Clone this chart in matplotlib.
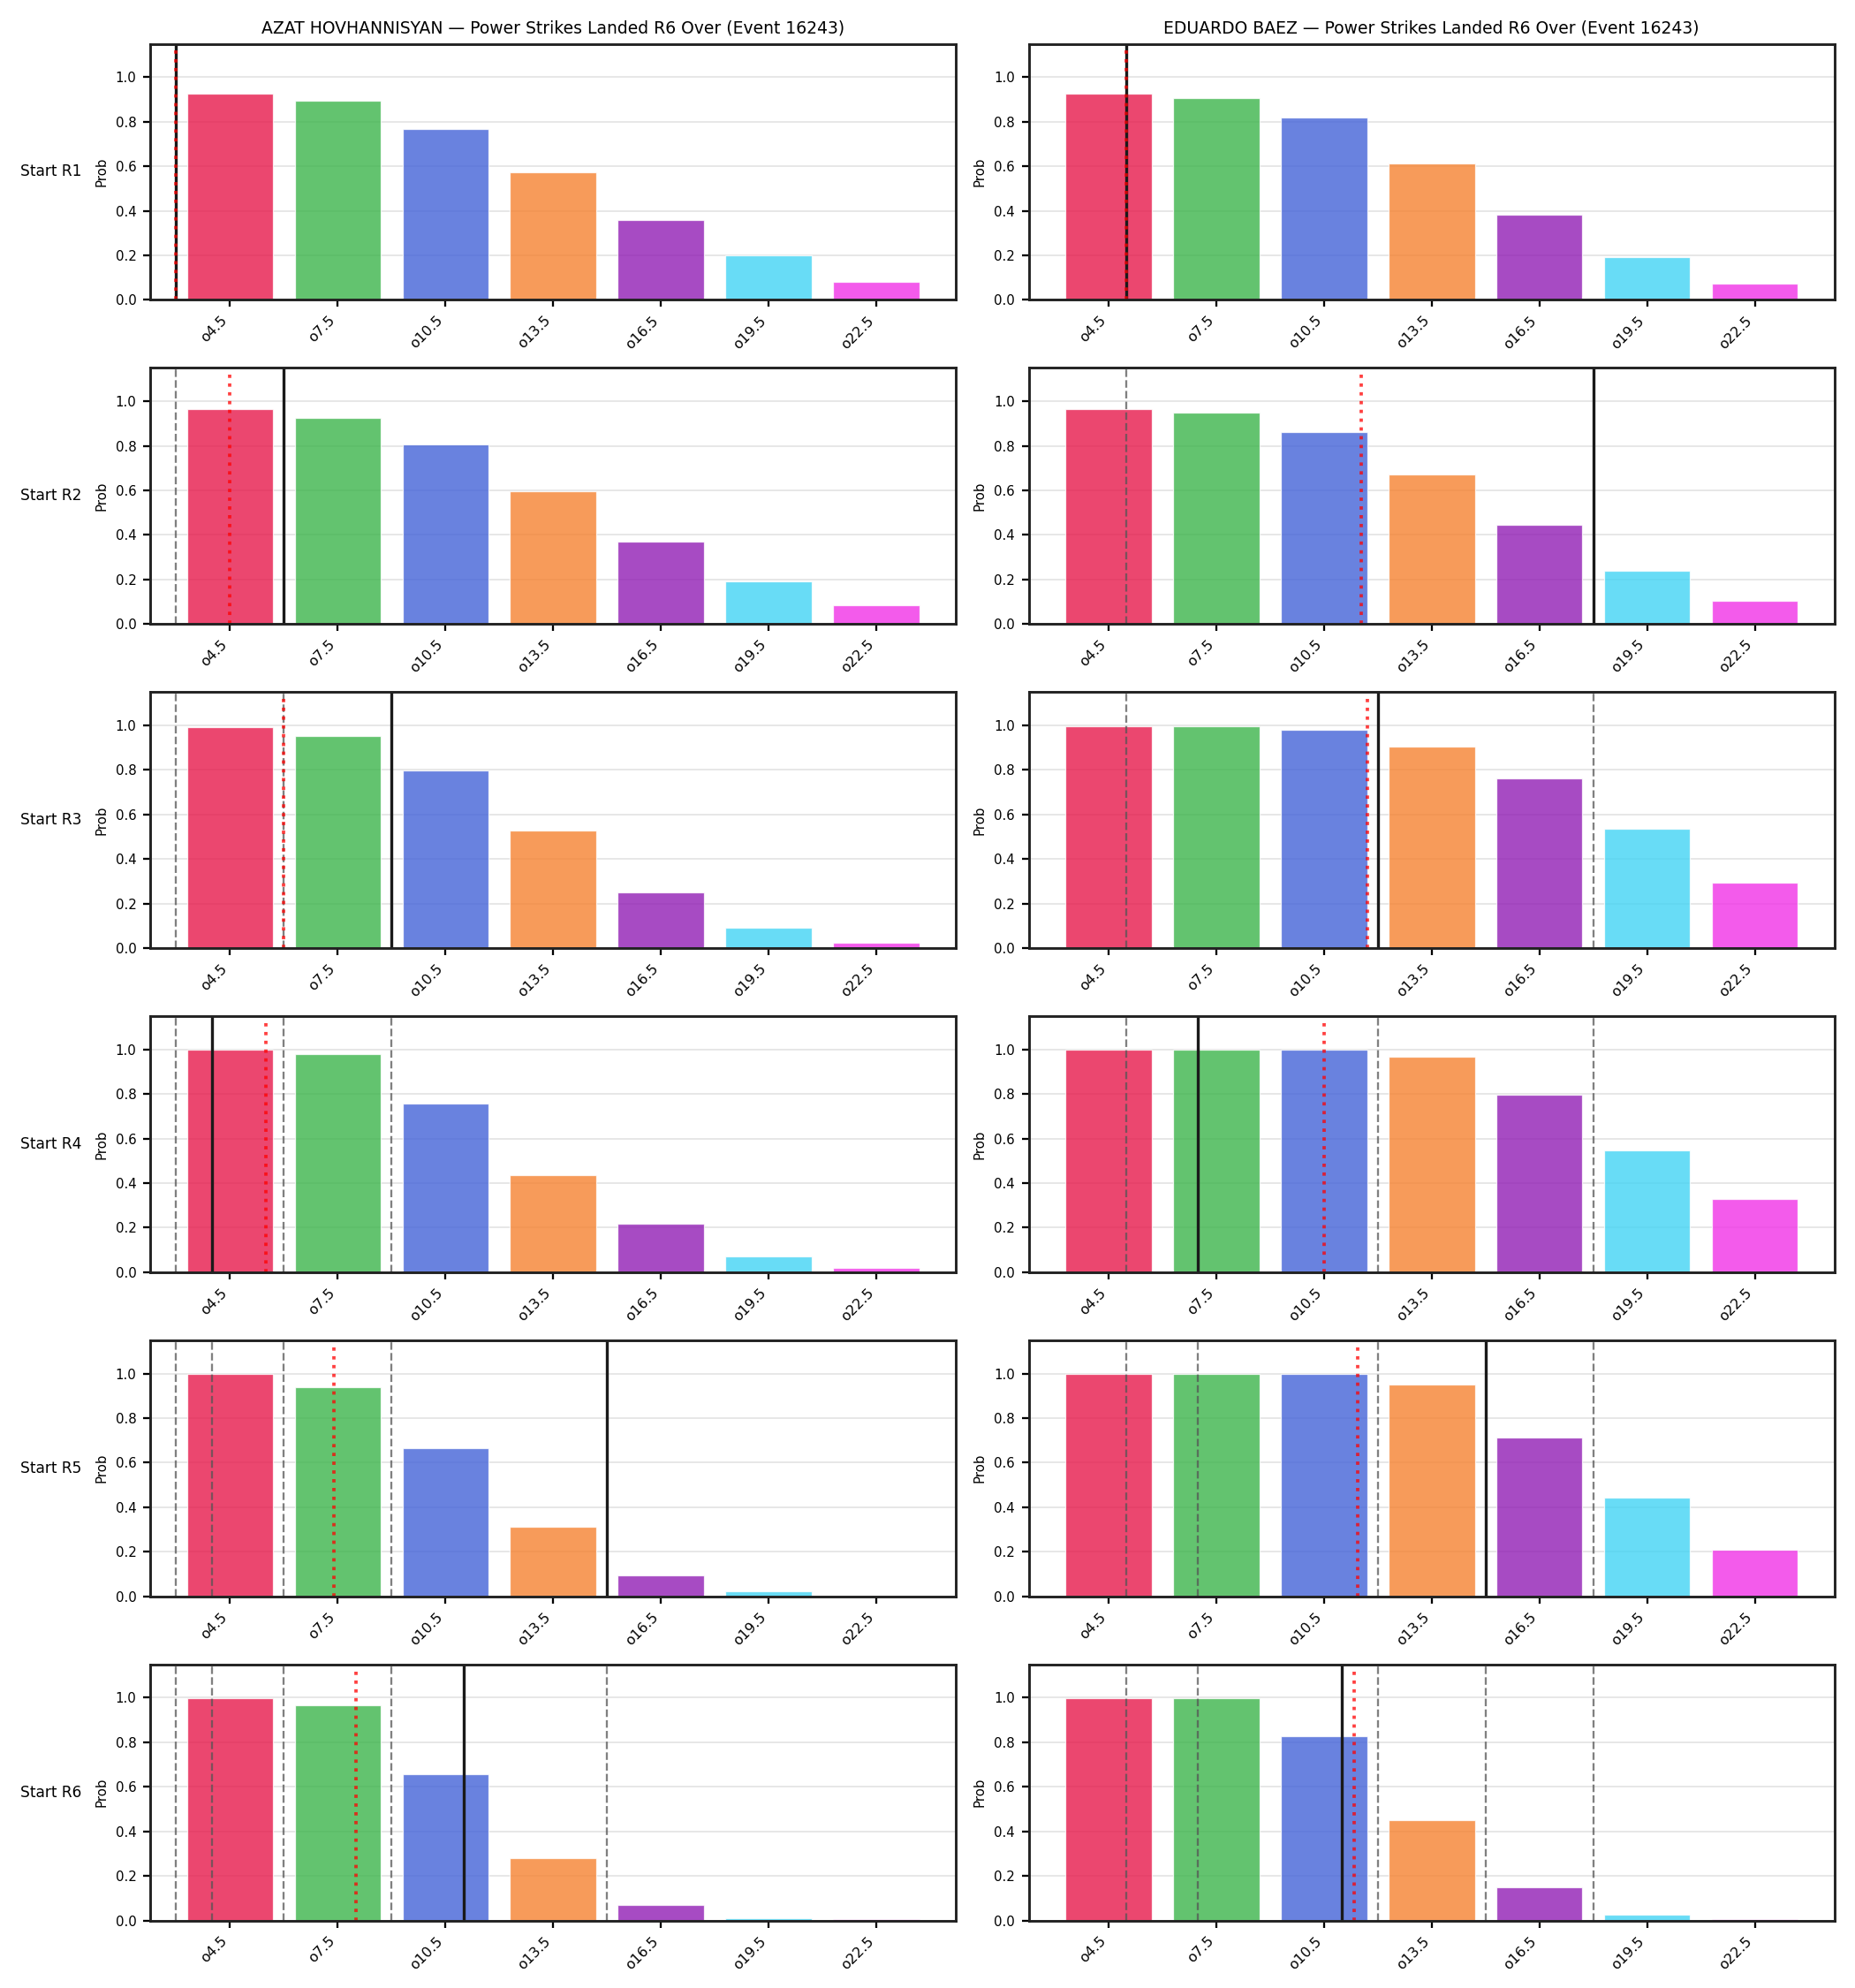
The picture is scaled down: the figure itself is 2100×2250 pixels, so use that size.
import numpy as np
import matplotlib
matplotlib.use("Agg")
import matplotlib.pyplot as plt

# ---------------- data ----------------
thresholds = [4.5, 7.5, 10.5, 13.5, 16.5, 19.5, 22.5]
tick_labels = ["o4.5", "o7.5", "o10.5", "o13.5", "o16.5", "o19.5", "o22.5"]
rounds = ["R1", "R2", "R3", "R4", "R5", "R6"]
fighters = ["AZAT HOVHANNISYAN", "EDUARDO BAEZ"]
event_id = 16243

azat_probs = [
    [0.926, 0.894, 0.767, 0.572, 0.358, 0.199, 0.082],
    [0.966, 0.926, 0.805, 0.596, 0.370, 0.191, 0.083],
    [0.992, 0.954, 0.799, 0.527, 0.250, 0.090, 0.023],
    [0.997, 0.979, 0.759, 0.436, 0.218, 0.070, 0.019],
    [0.997, 0.938, 0.667, 0.313, 0.094, 0.023, 0.003],
    [0.996, 0.964, 0.656, 0.281, 0.070, 0.009, 0.006],
]
baez_probs = [
    [0.926, 0.905, 0.819, 0.612, 0.381, 0.193, 0.072],
    [0.966, 0.948, 0.862, 0.672, 0.446, 0.238, 0.103],
    [0.997, 0.997, 0.981, 0.904, 0.763, 0.535, 0.294],
    [0.997, 0.997, 0.997, 0.966, 0.798, 0.548, 0.329],
    [0.997, 0.997, 0.997, 0.950, 0.711, 0.444, 0.210],
    [0.996, 0.996, 0.825, 0.452, 0.147, 0.026, 0.007],
]
# strikes landed at start of each round (solid line; earlier rounds dashed)
azat_landed = [3, 6, 9, 4, 15, 11]
baez_landed = [5, 18, 12, 7, 15, 11]
# projected value (red dotted line)
azat_proj = [3, 4.5, 6, 5.5, 7.4, 8.0]
baez_proj = [5, 11.55, 11.7, 10.5, 11.45, 11.35]

bar_colors = ["#e6194B", "#3cb44b", "#4363d8", "#f58231", "#911eb4", "#42d4f4", "#f032e6"]

probs_all = [azat_probs, baez_probs]
landed_all = [azat_landed, baez_landed]
proj_all = [azat_proj, baez_proj]


def to_pos(v):
    # map a strike count onto the categorical bar axis (linear, 3 strikes per bar)
    return (v - thresholds[0]) / (thresholds[1] - thresholds[0])


fig, axes = plt.subplots(6, 2, figsize=(14, 15), dpi=150)
fig.subplots_adjust(left=0.081, right=0.989, top=0.978, bottom=0.034,
                    wspace=0.09, hspace=0.265)

x = np.arange(len(thresholds))
for c in range(2):
    for r in range(6):
        ax = axes[r, c]
        ax.set_axisbelow(True)
        ax.grid(axis="y", color="#e3e3e3", linewidth=0.8)
        ax.bar(x, probs_all[c][r], width=0.8, color=bar_colors, alpha=0.8,
               edgecolor="white", linewidth=0.6)
        for prev in range(r):
            ax.axvline(to_pos(landed_all[c][prev]), color="#555555", alpha=0.75,
                       linestyle="--", linewidth=1.1)
        ax.axvline(to_pos(landed_all[c][r]), color="#1a1a1a", linewidth=1.6)
        ax.axvline(to_pos(proj_all[c][r]), ymax=0.985, color="red", alpha=0.75,
                   linestyle=":", linewidth=1.8)
        ax.set_ylim(0, 1.15)
        ax.set_yticks([0.0, 0.2, 0.4, 0.6, 0.8, 1.0])
        ax.set_xticks(x)
        ax.set_xticklabels(tick_labels, rotation=45, ha="right")
        ax.tick_params(axis="x", labelsize=7.6, width=1.1, length=4)
        ax.tick_params(axis="y", labelsize=7.2, width=1.1, length=4)
        ax.set_ylabel("Prob", fontsize=7.2)
        for sp in ax.spines.values():
            sp.set_linewidth(1.4)
            sp.set_color("#222222")
        if r == 0:
            ax.set_title(f"{fighters[c]} \u2014 Power Strikes Landed R6 Over (Event {event_id})",
                         fontsize=9)
        if c == 0:
            ax.text(-0.085, 0.5, f"Start {rounds[r]}", transform=ax.transAxes,
                    ha="right", va="center", fontsize=8.2)

fig.savefig("out.png", dpi=150)
